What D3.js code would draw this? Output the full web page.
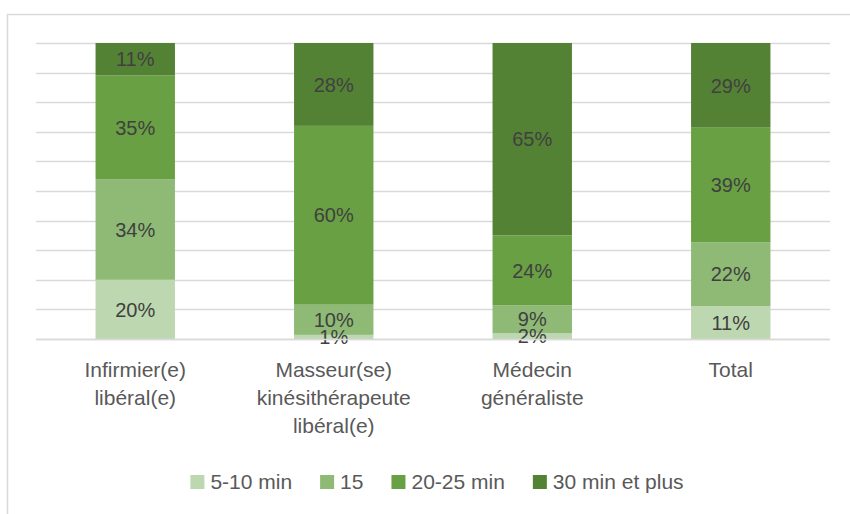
<!DOCTYPE html>
<html><head><meta charset="utf-8">
<script src="https://cdn.jsdelivr.net/npm/d3@7"></script>
<style>body{margin:0;background:#fff}svg{display:block}</style>
</head><body><svg id="c" width="850" height="514"></svg>
<script>
const categories = [["Infirmier(e)","libéral(e)"],["Masseur(se)","kinésithérapeute","libéral(e)"],["Médecin","généraliste"],["Total"]];
const seriesNames = ["5-10 min","15","20-25 min","30 min et plus"];
const colors = ["#BDD7B0","#8EBA76","#68A043","#548235"];
const s510 = [0.20, 0.014, 0.02, 0.111];
const s15 = [0.34, 0.102, 0.094, 0.216];
const s2025 = [0.35, 0.604, 0.236, 0.387];
const s30 = [0.11, 0.280, 0.650, 0.286];
const yTicks = d3.range(0, 1.0001, 0.1);

const svg = d3.select("#c");
const font = "'Liberation Sans', Arial, sans-serif";
svg.append("rect").attr("x",7.5).attr("y",14.5).attr("width",900).attr("height",600)
  .attr("fill","#fff").attr("stroke","#d9d9d9").attr("stroke-width",1.5);

const keys = categories.map((c,i)=>i);
const x = d3.scaleBand().domain(keys).range([36,830]).paddingInner(0.6).paddingOuter(0.3);
const y = d3.scaleLinear().domain([0,1]).range([339,43]);

svg.append("g").selectAll("line").data(yTicks).join("line")
  .attr("x1",36).attr("x2",830).attr("y1",d=>Math.round(y(d))+0.5).attr("y2",d=>Math.round(y(d))+0.5)
  .attr("stroke","#d9d9d9").attr("stroke-width",1.3);

const rows = keys.map(i=>({i, a:s510[i], b:s15[i], c:s2025[i], d:s30[i]}));
const stack = d3.stack().keys(["a","b","c","d"])(rows);

const g = svg.append("g");
stack.forEach((layer,li)=>{
  g.selectAll(null).data(layer).join("rect")
    .attr("x",d=>x(d.data.i)).attr("width",x.bandwidth())
    .attr("y",d=>y(d[1])).attr("height",d=>y(d[0])-y(d[1]))
    .attr("fill",colors[li]);
});
const fmt = d3.format(".0%");
stack.forEach((layer,li)=>{
  g.selectAll(null).data(layer).join("text")
    .attr("x",d=>x(d.data.i)+x.bandwidth()/2)
    .attr("y",d=>(y(d[0])+y(d[1]))/2)
    .attr("dy","0.36em").attr("text-anchor","middle")
    .attr("font-family",font).attr("font-size",20).attr("fill","#404040")
    .text(d=>fmt(d[1]-d[0]));
});

svg.append("line").attr("x1",36).attr("x2",830).attr("y1",339.5).attr("y2",339.5).attr("stroke","#d9d9d9").attr("stroke-width",1.3);

const cl = svg.append("g").selectAll("text").data(keys).join("text")
  .attr("x",i=>x(i)+x.bandwidth()/2).attr("y",377)
  .attr("text-anchor","middle").attr("font-family",font).attr("font-size",21).attr("fill","#595959");
cl.each(function(i){
  const t = d3.select(this);
  categories[i].forEach((line,k)=>{
    t.append("tspan").attr("x",x(i)+x.bandwidth()/2).attr("dy",k===0?0:28).text(line);
  });
});

const lg = svg.append("g");
let cx = 0;
seriesNames.forEach((n,i)=>{
  const it = lg.append("g").attr("transform",`translate(${cx},0)`);
  it.append("rect").attr("x",0).attr("y",-14).attr("width",14).attr("height",14).attr("fill",colors[i]);
  const t = it.append("text").attr("x",20).attr("y",0).attr("font-family",font).attr("font-size",21).attr("fill","#595959").text(n);
  const w = t.node().getComputedTextLength();
  cx += 20 + w + 28;
});
const total = cx - 28;
lg.attr("transform",`translate(${437 - total/2},489)`);
</script></body></html>
